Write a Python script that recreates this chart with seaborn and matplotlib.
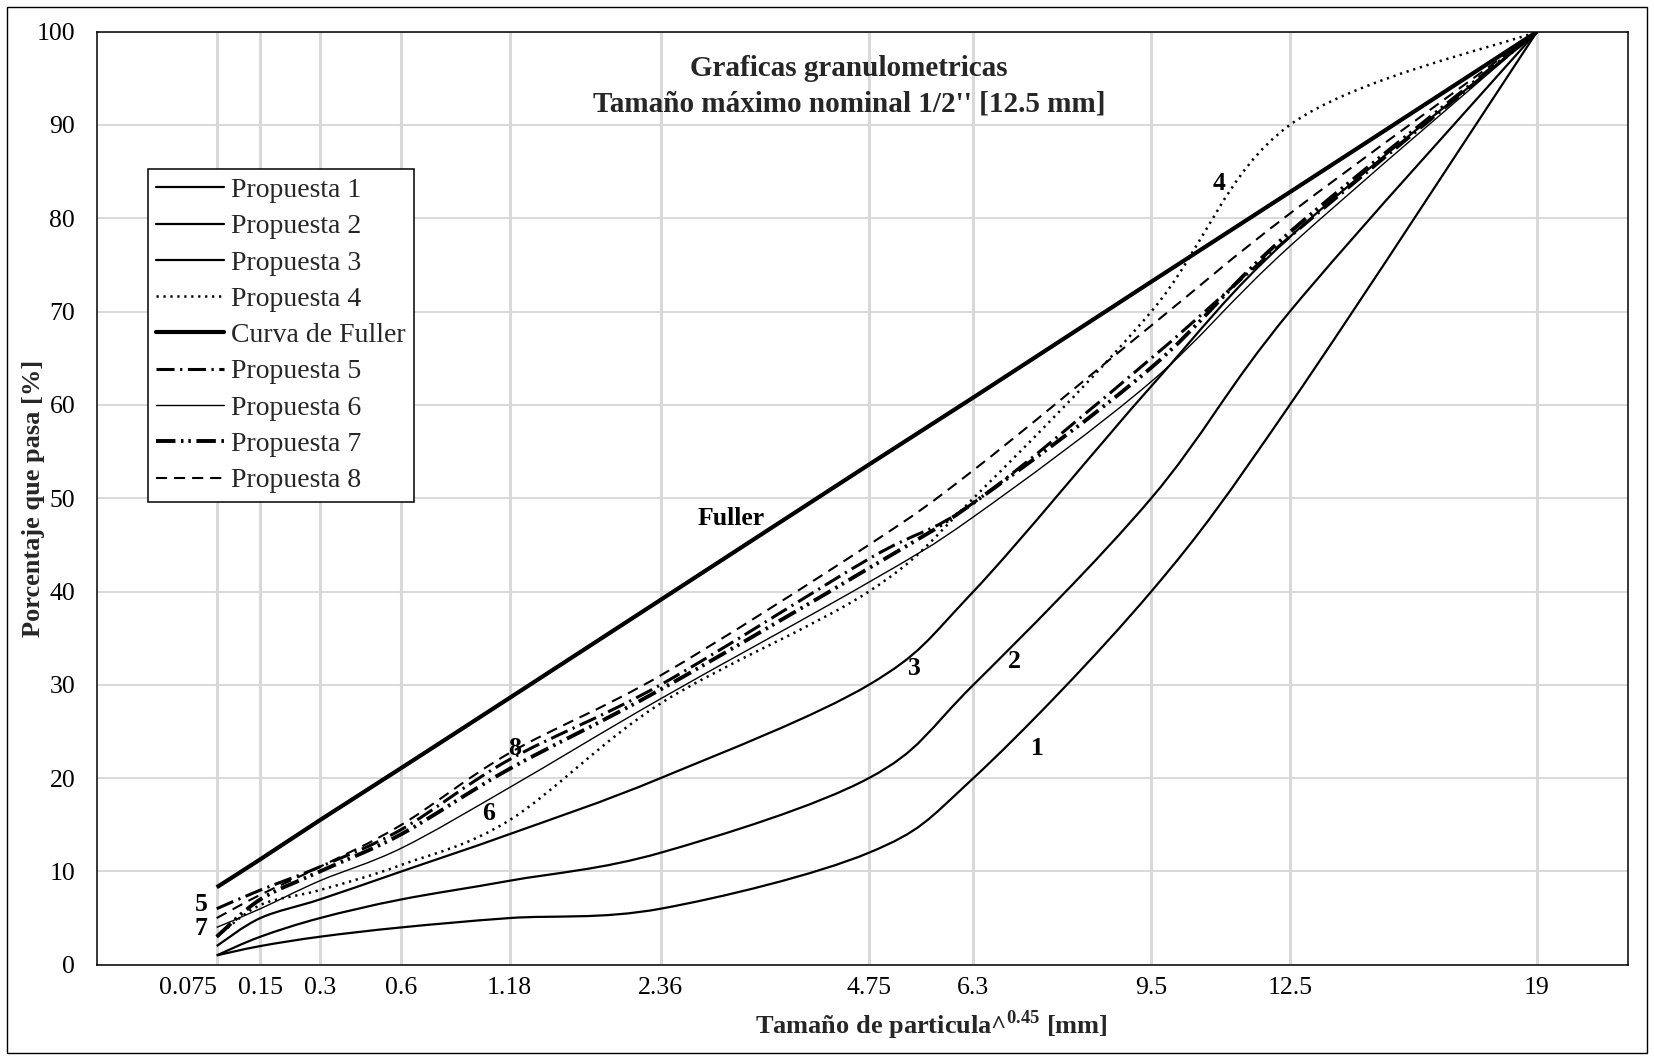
import numpy as np
import seaborn as sns
import matplotlib
matplotlib.use("Agg")
import matplotlib.pyplot as plt
from matplotlib.path import Path
from matplotlib.patches import PathPatch, Rectangle
from matplotlib.lines import Line2D

# tamices [mm] y porcentaje que pasa
tamices = [0.075, 0.15, 0.3, 0.6, 1.18, 2.36, 4.75, 6.3, 9.5, 12.5, 19]
tamiz_labels = ['0.075', '0.15', '0.3', '0.6', '1.18', '2.36', '4.75', '6.3', '9.5', '12.5', '19']

propuesta_1 = [1, 2, 3, 4, 5, 6, 12, 20, 40, 60, 100]
propuesta_2 = [1, 3, 5, 7, 9, 12, 20, 30, 50, 70, 100]
propuesta_3 = [2, 5, 7, 10, 14, 20, 30, 40, 62, 78, 100]
propuesta_4 = [3, 6.4, 8, 10.7, 15.5, 28, 40, 50, 70, 90, 100]
fuller = [8.3, 11.3, 15.5, 21.1, 28.6, 39.1, 53.6, 60.8, 73.2, 82.8, 100]
propuesta_5 = [6, 8, 10.5, 14.5, 22, 30, 43.5, 49.5, 65, 78, 100]
propuesta_6 = [4, 6, 9, 12.5, 19, 28.5, 41, 48, 62.5, 77, 100]
propuesta_7 = [3, 7, 10, 14, 21, 29.5, 42.5, 49.5, 64, 78.5, 100]
propuesta_8 = [5, 7.5, 10.5, 15, 22.7, 31, 45, 53, 68.5, 80.5, 100]

EXPONENTE = 0.45

sns.set_theme(style="whitegrid")
plt.rcParams['font.family'] = ['Liberation Serif', 'DejaVu Serif']
plt.rcParams['mathtext.fontset'] = 'custom'
plt.rcParams['mathtext.rm'] = 'Liberation Serif'
plt.rcParams['mathtext.bf'] = 'Liberation Serif:bold'
plt.rcParams['lines.scale_dashes'] = False


def curva_suave(x, y):
    """Curva suavizada tipo Excel (Bezier Catmull-Rom) que pasa por los puntos."""
    pts = np.column_stack([x, y]).astype(float)
    n = len(pts)
    verts, codes = [pts[0]], [Path.MOVETO]
    for i in range(n - 1):
        p0 = pts[max(i - 1, 0)]
        p1, p2 = pts[i], pts[i + 1]
        p3 = pts[min(i + 2, n - 1)]
        verts += [p1 + (p2 - p0) / 6, p2 - (p3 - p1) / 6, p2]
        codes += [Path.CURVE4] * 3
    return Path(verts, codes)


series = [
    ('Propuesta 1', propuesta_1, 1.6, '-'),
    ('Propuesta 2', propuesta_2, 1.6, '-'),
    ('Propuesta 3', propuesta_3, 1.6, '-'),
    ('Propuesta 4', propuesta_4, 1.8, (0, (1.6, 3.4))),
    ('Curva de Fuller', fuller, 3.0, '-'),
    ('Propuesta 5', propuesta_5, 2.2, (0, (13, 4, 1.6, 4))),
    ('Propuesta 6', propuesta_6, 1.0, '-'),
    ('Propuesta 7', propuesta_7, 2.8, (0, (14, 4, 1.8, 3.5, 1.8, 4))),
    ('Propuesta 8', propuesta_8, 1.5, (0, (8, 5))),
]

fig = plt.figure(figsize=(16.54, 10.60), dpi=100)
ax = fig.add_axes([0.0589, 0.0899, 0.9254, 0.8802])

x_pos = np.array(tamices) ** EXPONENTE

handles = []
for nombre, valores, lw, ls in series:
    patch = PathPatch(curva_suave(x_pos, valores), fill=False, edgecolor='black',
                      linewidth=lw, linestyle=ls, capstyle='butt', joinstyle='round',
                      zorder=3)
    ax.add_patch(patch)
    handles.append(Line2D([], [], color='black', lw=lw, linestyle=ls,
                          dash_capstyle='butt', label=nombre))

ax.set_xlim(0, 4)
ax.set_ylim(0, 100)
ax.set_xticks(x_pos)
ax.set_xticklabels(tamiz_labels)
ax.set_yticks(range(0, 101, 10))
ax.xaxis.grid(True, color='#d9d9d9', lw=2.2)
ax.yaxis.grid(True, color='#d9d9d9', lw=1.4)
ax.set_axisbelow(True)
ax.set_facecolor('white')
ax.tick_params(axis='x', length=0, pad=9, labelsize=18.5, colors='black')
ax.tick_params(axis='y', length=0, pad=16, labelsize=18.5, colors='black')
ax.get_xticklabels()[0].set_horizontalalignment('right')
for sp in ax.spines.values():
    sp.set_visible(True)
    sp.set_color('black')
    sp.set_linewidth(1.1)

# etiquetas de cada curva
etiquetas = [
    ('Fuller', 1.657, 47.8), ('8', 1.091, 23.2), ('6', 1.021, 16.2),
    ('5', 0.271, 6.4), ('7', 0.271, 3.9), ('3', 2.135, 31.7),
    ('2', 2.396, 32.5), ('1', 2.457, 23.2), ('4', 2.930, 83.7),
]
for txt, xt, yt in etiquetas:
    ax.text(xt, yt, txt, ha='center', va='center', fontsize=18.5,
            fontweight='bold', color='black', zorder=5)

ax.text(0.491, 0.9525, 'Graficas granulometricas', transform=ax.transAxes,
        ha='center', va='baseline', fontsize=21, fontweight='bold')
ax.text(0.491, 0.9145, "Tamaño máximo nominal 1/2'' [12.5 mm]", transform=ax.transAxes,
        ha='center', va='baseline', fontsize=21, fontweight='bold')

leg = ax.legend(handles=handles, loc='upper left', bbox_to_anchor=(0.0329, 0.8525),
                borderaxespad=0, fontsize=20, handlelength=2.45, handletextpad=0.25,
                borderpad=0.3, labelspacing=0.39, fancybox=False, framealpha=1,
                edgecolor='black', facecolor='white')
leg.get_frame().set_linewidth(1.1)
leg.set_zorder(6)

fig.text(931 / 1654, 1 - 1025 / 1060,
         r'Tamaño de particula^$^{\mathbf{0.45}}$ [mm]',
         ha='center', va='center', fontsize=19, fontweight='bold')
fig.text(34 / 1654, 1 - 498 / 1060, 'Porcentaje que pasa [%]', rotation=90,
         ha='center', va='center', fontsize=19, fontweight='bold')

fig.patches.append(Rectangle((7 / 1654, 7 / 1060), 1 - 14 / 1654, 1 - 14 / 1060,
                             transform=fig.transFigure, fill=False,
                             edgecolor='black', linewidth=1.0))

fig.savefig('out.png', dpi=100, facecolor='white')
